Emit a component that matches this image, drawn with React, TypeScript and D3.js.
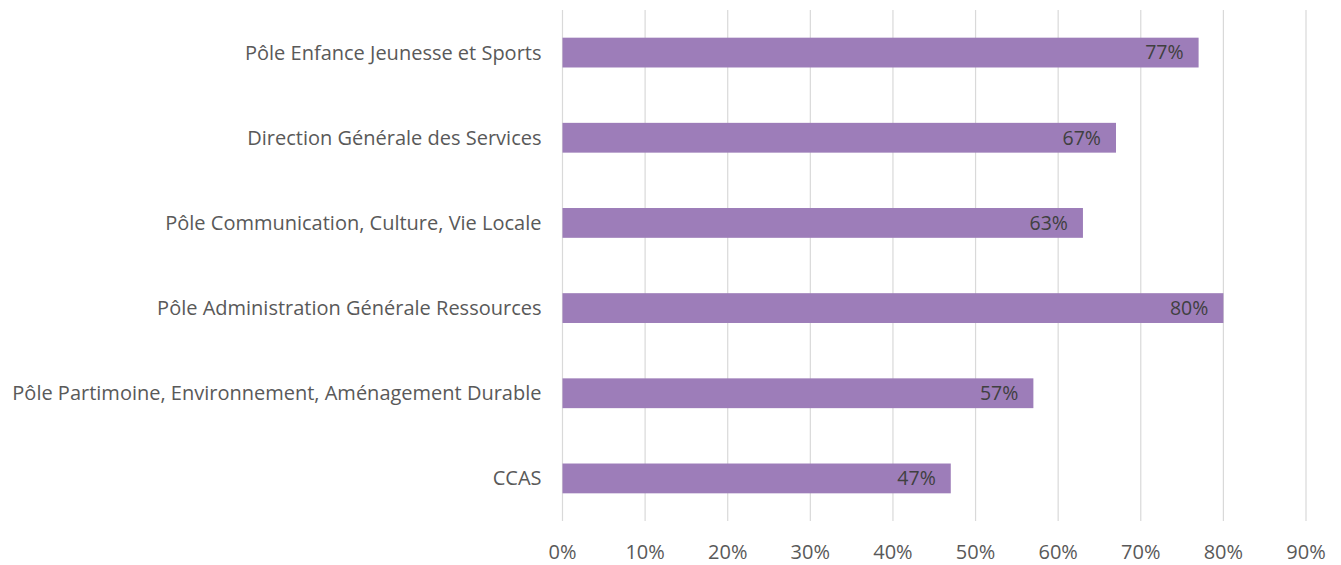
import React from 'react';
import * as d3 from 'd3';

// services and share of agents (%)
const services = [
  'Pôle Enfance Jeunesse et Sports',
  'Direction Générale des Services',
  'Pôle Communication, Culture, Vie Locale',
  'Pôle Administration Générale Ressources',
  'Pôle Partimoine, Environnement, Aménagement Durable',
  'CCAS',
];
const values = [77, 67, 63, 80, 57, 47];
const ticks = [0, 10, 20, 30, 40, 50, 60, 70, 80, 90];

const width = 1341;
const height = 565;
const marginLeft = 562.5;
const marginRight = 35;
const marginTop = 10;
const marginBottom = 44;

const barColor = '#9d7db9';
const gridColor = '#d9d9d9';
const textColor = '#595959';
const font = '"Open Sans", sans-serif';

const App = () => {
  const x = d3.scaleLinear().domain([0, 90]).range([marginLeft, width - marginRight]);
  const y = d3.scaleBand()
    .domain(services)
    .range([marginTop, height - marginBottom])
    .paddingInner(0.65)
    .paddingOuter(0.325);

  return (
    <svg
      width={width}
      height={height}
      style={{ position: 'absolute', left: 0, top: 0, background: '#fff' }}
    >
      {/* gridlines */}
      <g>
        {ticks.map(t => (
          <line
            key={t}
            x1={x(t)}
            x2={x(t)}
            y1={marginTop}
            y2={height - marginBottom}
            stroke={gridColor}
            strokeWidth={1.2}
          />
        ))}
      </g>

      {/* bars */}
      <g>
        {services.map((s, i) => (
          <rect
            key={s}
            x={x(0)}
            y={y(s)}
            width={x(values[i]) - x(0)}
            height={y.bandwidth()}
            fill={barColor}
          />
        ))}
      </g>

      {/* value labels */}
      <g fontFamily={font} fontSize={19.5} fill="#404040" textAnchor="end">
        {services.map((s, i) => (
          <text key={s} x={x(values[i]) - 15} y={y(s)! + y.bandwidth() / 2} dy="0.35em">
            {values[i]}%
          </text>
        ))}
      </g>

      {/* category labels */}
      <g fontFamily={font} fontSize={20} fill={textColor} textAnchor="end">
        {services.map(s => (
          <text key={s} x={marginLeft - 21} y={y(s)! + y.bandwidth() / 2} dy="0.35em">
            {s}
          </text>
        ))}
      </g>

      {/* x tick labels */}
      <g fontFamily={font} fontSize={20} fill={textColor} textAnchor="middle">
        {ticks.map(t => (
          <text key={t} x={x(t)} y={552} dy="0.35em">
            {t}%
          </text>
        ))}
      </g>
    </svg>
  );
};

export default App;
